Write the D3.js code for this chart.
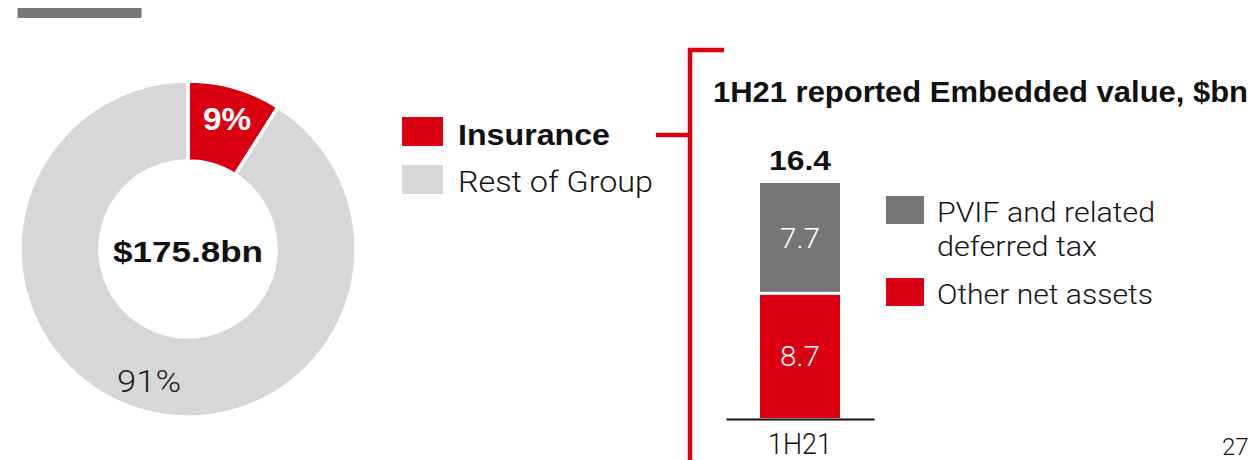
<!DOCTYPE html>
<html>
<head>
<meta charset="utf-8">
<script src="https://cdn.jsdelivr.net/npm/d3@7"></script>
<style>
  html, body { margin: 0; padding: 0; background: #fff; }
  svg { display: block; }
  .light { font-family: Roboto, "Liberation Sans", sans-serif; font-weight: 300; }
  .bold { font-family: "Liberation Sans", Arial, sans-serif; font-weight: 700; }
</style>
</head>
<body>
<svg id="chart" width="1253" height="460"></svg>
<script>
// Group equity split (donut)
const groupSegments = ["Insurance", "Rest of Group"];
const groupShares = [9, 91];
const groupTotalLabel = "$175.8bn";

// Insurance embedded value (stacked bar)
const evCategories = ["1H21"];
const evSeries = ["Other net assets", "PVIF and related deferred tax"];
const evOtherNetAssets = [8.7];
const evPvif = [7.7];
const evTotals = [16.4];
const evTitle = "1H21 reported Embedded value, $bn";
const pageNumber = "27";

const RED = "#db0011";
const LIGHT_GREY = "#d7d7d7";
const DARK_GREY = "#767676";

const svg = d3.select("#chart");

// The house typeface is wider than the fallback fonts; stretch a label to its set width
function fitWidth(sel, w) {
  sel.attr("textLength", w).attr("lengthAdjust", "spacingAndGlyphs");
}

// Section marker bar, top left
svg.append("rect")
  .attr("x", 17.5).attr("y", 8).attr("width", 124).attr("height", 10)
  .attr("fill", DARK_GREY);

// ---------- Donut ----------
const donutColor = d3.scaleOrdinal().domain(groupSegments).range([RED, LIGHT_GREY]);
const pie = d3.pie().sort(null).value(d => d.value);
const arc = d3.arc().innerRadius(88).outerRadius(168);
const donutData = pie(groupSegments.map((s, i) => ({ name: s, value: groupShares[i] })));

const donut = svg.append("g").attr("transform", "translate(188,249)");
donut.selectAll("path")
  .data(donutData)
  .join("path")
  .attr("d", arc)
  .attr("fill", d => donutColor(d.data.name))
  .attr("stroke", "#fff")
  .attr("stroke-width", 3.5)
  .attr("stroke-linejoin", "miter");

// Percentage labels
donut.append("text")
  .attr("class", "bold")
  .attr("x", 39).attr("y", -119)
  .attr("text-anchor", "middle")
  .attr("font-size", 32)
  .attr("fill", "#fff")
  .text(groupShares[0] + "%")
  .call(fitWidth, 48);

donut.append("text")
  .attr("class", "light")
  .attr("x", -39).attr("y", 143)
  .attr("text-anchor", "middle")
  .attr("font-size", 31)
  .attr("fill", "#222")
  .text(groupShares[1] + "%")
  .call(fitWidth, 64);

donut.append("text")
  .attr("class", "bold")
  .attr("x", 0).attr("y", 13)
  .attr("text-anchor", "middle")
  .attr("font-size", 30)
  .attr("fill", "#111")
  .text(groupTotalLabel)
  .call(fitWidth, 150);

// Donut legend
const legend1Widths = [152, 195];
const legend1 = svg.append("g").attr("transform", "translate(402,117)");
legend1.selectAll("rect")
  .data(groupSegments)
  .join("rect")
  .attr("x", 0)
  .attr("y", (d, i) => i * 48)
  .attr("width", 41).attr("height", 29)
  .attr("fill", d => donutColor(d));
legend1.selectAll("text")
  .data(groupSegments)
  .join("text")
  .attr("class", (d, i) => i === 0 ? "bold" : "light")
  .attr("x", 56)
  .attr("y", (d, i) => 28 + i * 47)
  .attr("font-size", 29)
  .attr("fill", "#111")
  .text(d => d)
  .each(function (d, i) { d3.select(this).call(fitWidth, legend1Widths[i]); });

// Red bracket linking Insurance to the embedded value panel
const bracket = svg.append("g").attr("stroke", RED).attr("stroke-width", 4.5).attr("fill", "none");
bracket.append("path").attr("d", "M690,460 V50 H724");
bracket.append("line").attr("x1", 656).attr("x2", 690).attr("y1", 135).attr("y2", 135);

// ---------- Stacked bar ----------
svg.append("text")
  .attr("class", "bold")
  .attr("x", 713).attr("y", 102)
  .attr("font-size", 29)
  .attr("fill", "#111")
  .text(evTitle)
  .call(fitWidth, 535);

const x = d3.scaleBand().domain(evCategories).range([726, 874]).paddingInner(0).paddingOuter(0.425);
const y = d3.scaleLinear().domain([0, 16.4]).range([418, 183]);

const stackRows = evCategories.map((c, i) => ({
  category: c,
  "Other net assets": evOtherNetAssets[i],
  "PVIF and related deferred tax": evPvif[i]
}));
const stacked = d3.stack().keys(evSeries)(stackRows);
const barColor = d3.scaleOrdinal().domain(evSeries).range([RED, DARK_GREY]);

const gap = 1.5;
stacked.forEach((layer, li) => {
  svg.append("g").selectAll("rect")
    .data(layer)
    .join("rect")
    .attr("x", d => x(d.data.category))
    .attr("width", x.bandwidth())
    .attr("y", d => y(d[1]) + (li > 0 ? 0 : gap))
    .attr("height", d => y(d[0]) - y(d[1]) - gap)
    .attr("fill", barColor(layer.key));
  svg.append("g").selectAll("text")
    .data(layer)
    .join("text")
    .attr("class", "light")
    .attr("x", d => x(d.data.category) + x.bandwidth() / 2)
    .attr("y", d => (y(d[0]) + y(d[1])) / 2 + 10)
    .attr("text-anchor", "middle")
    .attr("font-size", 28)
    .attr("fill", "#fff")
    .text(d => d3.format(".1f")(d[1] - d[0]))
    .call(fitWidth, 40);
});

// Totals above bars
svg.append("g").selectAll("text")
  .data(evCategories)
  .join("text")
  .attr("class", "bold")
  .attr("x", d => x(d) + x.bandwidth() / 2)
  .attr("y", (d, i) => y(evTotals[i]) - 13)
  .attr("text-anchor", "middle")
  .attr("font-size", 28)
  .attr("fill", "#111")
  .text((d, i) => d3.format(".1f")(evTotals[i]))
  .call(fitWidth, 62);

// Category axis
const xAxis = svg.append("g")
  .attr("transform", "translate(0,419)")
  .call(d3.axisBottom(x).tickSize(0).tickPadding(26));
xAxis.select(".domain").attr("stroke", "#111").attr("stroke-width", 2);
xAxis.selectAll(".tick text")
  .attr("class", "light")
  .attr("font-size", 30)
  .attr("fill", "#111")
  .attr("dy", "0.3em")
  .call(fitWidth, 64);

// Bar legend
const legend2Items = [
  { key: evSeries[1], lines: ["PVIF and related", "deferred tax"], widths: [218, 160] },
  { key: evSeries[0], lines: ["Other net assets"], widths: [216] }
];
const legend2 = svg.append("g").attr("transform", "translate(886,196)");
legend2.selectAll("rect")
  .data(legend2Items)
  .join("rect")
  .attr("x", 0)
  .attr("y", (d, i) => i * 82)
  .attr("width", 38).attr("height", 28)
  .attr("fill", d => barColor(d.key));
legend2.selectAll("g.item")
  .data(legend2Items)
  .join("g")
  .attr("class", "item")
  .each(function (d, i) {
    d3.select(this).selectAll("text")
      .data(d.lines)
      .join("text")
      .attr("class", "light")
      .attr("x", 51)
      .attr("y", (l, j) => 26 + i * 82 + j * 34)
      .attr("font-size", 28)
      .attr("fill", "#111")
      .text(l => l)
      .each(function (l, j) { d3.select(this).call(fitWidth, d.widths[j]); });
  });

// Page number
svg.append("text")
  .attr("class", "light")
  .attr("x", 1222).attr("y", 455)
  .attr("font-size", 24)
  .attr("fill", "#111")
  .text(pageNumber);
</script>
</body>
</html>
